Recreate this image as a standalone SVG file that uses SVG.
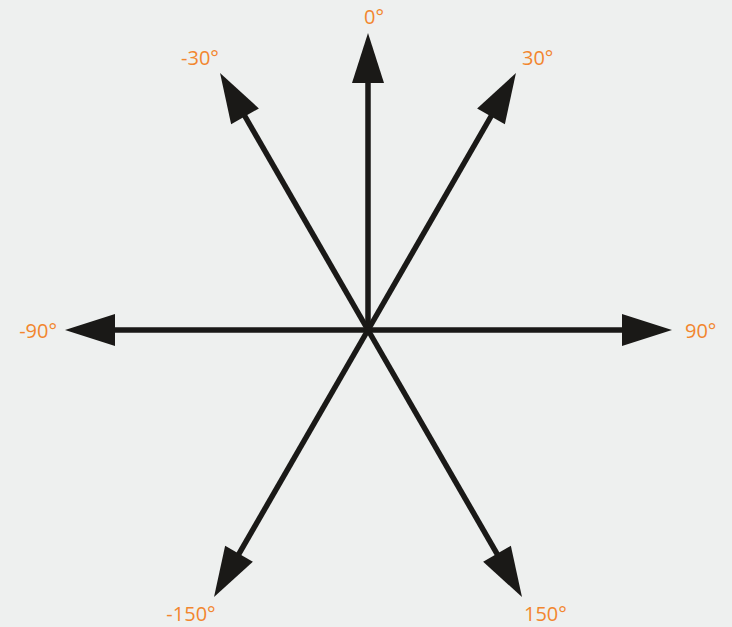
<svg xmlns="http://www.w3.org/2000/svg" width="732" height="627" viewBox="0 0 732 627">
  <style>
    .ray { stroke: #1a1917; stroke-width: 5.5; fill: none; stroke-linecap: butt; marker-end: url(#head); }
    .lbl { font-family: "Open Sans", "Noto Sans", "DejaVu Sans", sans-serif; font-size: 20px; fill: #f2862e; }
  </style>
  <defs>
    <marker id="head" markerUnits="userSpaceOnUse" markerWidth="50" markerHeight="34" refX="0" refY="0" orient="auto" overflow="visible">
      <path d="M-1,-16 L49,0 L-1,16 Z" fill="#1a1917"/>
    </marker>
  </defs>
  <rect width="732" height="627" fill="#eef0ef"/>
  <g id="connectors">
    <line class="ray" x1="368" y1="330" x2="368" y2="82"/>
    <line class="ray" x1="368" y1="330" x2="244.5" y2="115.5"/>
    <line class="ray" x1="368" y1="330" x2="491.5" y2="115.5"/>
    <line class="ray" x1="368" y1="330" x2="623" y2="330"/>
    <line class="ray" x1="368" y1="330" x2="114" y2="330"/>
    <line class="ray" x1="368" y1="330" x2="497.5" y2="554.6"/>
    <line class="ray" x1="368" y1="330" x2="238.5" y2="554.6"/>
  </g>
  <g id="label-0"><text class="lbl" x="374" y="24" text-anchor="middle">0°</text></g>
  <g id="label-m30"><text class="lbl" x="200" y="65" text-anchor="middle">-30°</text></g>
  <g id="label-30"><text class="lbl" x="522" y="65">30°</text></g>
  <g id="label-m90"><text class="lbl" x="57" y="338" text-anchor="end">-90°</text></g>
  <g id="label-90"><text class="lbl" x="685" y="338">90°</text></g>
  <g id="label-m150"><text class="lbl" x="191" y="621" text-anchor="middle">-150°</text></g>
  <g id="label-150"><text class="lbl" x="524" y="621">150°</text></g>
</svg>
